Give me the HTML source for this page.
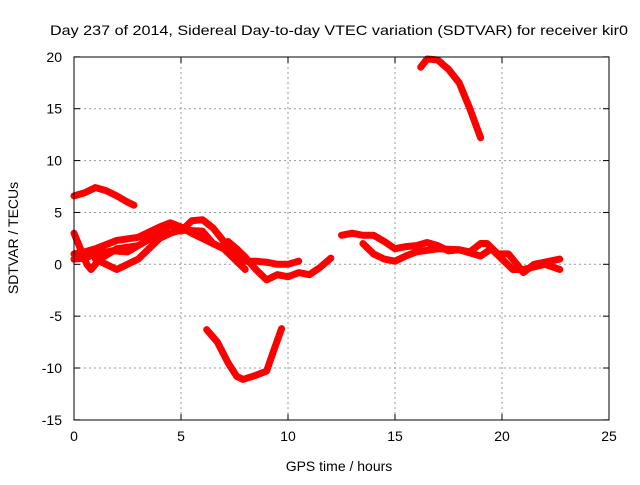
<!DOCTYPE html>
<html><head><meta charset="utf-8"><style>
body{margin:0;background:#fff}
svg text{font-family:"Liberation Sans",sans-serif;font-size:14px;fill:#000}
</style></head><body>
<svg id="chart" width="640" height="480" viewBox="0 0 640 480" xmlns="http://www.w3.org/2000/svg">
<rect width="640" height="480" fill="#fff"/>
<text x="339" y="35" text-anchor="middle" textLength="578" lengthAdjust="spacingAndGlyphs">Day 237 of 2014, Sidereal Day-to-day VTEC variation (SDTVAR) for receiver kir0</text>
<g id="grid"></g>
<g id="series"></g>
<rect x="74" y="57" width="535" height="363" fill="none" stroke="#000" stroke-width="1"/>
<g id="ticks"></g>
<text x="339" y="471" text-anchor="middle">GPS time / hours</text>
<text transform="translate(18,238) rotate(-90)" text-anchor="middle">SDTVAR / TECUs</text>
</svg>
<script>
const xTicks=[0,5,10,15,20,25];
const yTicks=[-15,-10,-5,0,5,10,15,20];
const s1=[[0,6.6],[0.5,6.9],[1,7.4],[1.5,7.1],[2,6.6],[2.5,6.0],[2.8,5.7]];
const s2=[[16.2,19],[16.5,19.8],[17,19.7],[17.5,18.8],[18,17.5],[18.5,15],[19,12.2]];
const s3=[[6.2,-6.3],[6.7,-7.5],[7.2,-9.5],[7.6,-10.8],[7.9,-11.1],[8.5,-10.7],[9,-10.3],[9.3,-8.5],[9.7,-6.2]];
const sA=[[0,3],[0.3,1.5],[0.6,0],[0.8,-0.5],[1.2,0.5],[2,1.5],[3,1.8],[4,3],[4.5,3.8],[5,3.2],[5.5,4.2],[6,4.3],[6.5,3.5],[7,2.2],[7.5,1.2],[8,0.3],[8.5,0.3],[9,0.2],[9.5,0],[10,0],[10.5,0.3]];
const sB=[[0,1],[0.5,1.2],[1,1.5],[2,2.3],[3,2.6],[4,3.6],[4.5,4.0],[5,3.6],[5.5,3.0],[6,2.5],[6.5,2.0],[7,1.5],[7.5,0.5],[8,-0.5]];
const sC=[[1,0.5],[1.5,0],[2,-0.5],[3,0.5],[3.5,1.5],[4,2.5],[4.5,3.0],[5,3.3],[6,3.2],[6.5,2.0],[7,1.5]];
const sD=[[7.2,2.2],[7.6,1.5],[8,0.7],[8.5,-0.5],[9,-1.5],[9.5,-1.0],[10,-1.2],[10.5,-0.8],[11,-1],[11.5,-0.3],[12,0.6]];
const sE=[[0,0.5],[0.5,0.6],[1,1.0],[1.8,1.3],[2.5,1.2],[3,1.8]];
const sR1=[[12.5,2.8],[13,3.0],[13.5,2.8],[14,2.8],[14.5,2.2],[15,1.5],[15.5,1.7],[16,1.8],[16.5,2.1],[17,1.8],[17.5,1.3],[18,1.4],[18.5,1.2],[19,2.0],[19.3,2.0],[19.8,1.0],[20.3,1.0],[20.7,0],[21,-0.8],[21.5,0],[22,0.2],[22.7,0.5]];
const sR2=[[13.5,2.0],[14,1.0],[14.5,0.5],[15,0.3],[15.5,0.8],[16,1.2],[17,1.5],[18,1.4],[19,0.8],[19.5,1.5],[20,0.5],[20.5,-0.5],[21,-0.5],[22,0],[22.7,-0.5]];
const seriesList=[s1,s2,s3,sA,sB,sC,sD,sE,sR1,sR2];
const seriesNames=['series-early-high','series-peak','series-dip','strand-a','strand-b','strand-c','strand-d','strand-e','strand-r1','strand-r2'];
const X=v=>74+v*(535/25);
const Y=v=>264.3-v*(363/35);
const NS='http://www.w3.org/2000/svg';
const grid=document.getElementById('grid'),ticks=document.getElementById('ticks'),ser=document.getElementById('series');
function mk(tag,at,parent){const e=document.createElementNS(NS,tag);for(const k in at)e.setAttribute(k,at[k]);parent.appendChild(e);return e;}
xTicks.forEach(t=>{
  if(t>0&&t<25){const g=mk('line',{x1:X(t),x2:X(t),y1:57,y2:420,stroke:'#999','stroke-dasharray':'2,3'},grid);
  
  }
  const tx=mk('text',{x:X(t),y:441,'text-anchor':'middle'},ticks);tx.textContent=t;
  
  
  mk('line',{x1:X(t),x2:X(t),y1:420,y2:414,stroke:'#000'},ticks);
  mk('line',{x1:X(t),x2:X(t),y1:57,y2:63,stroke:'#000'},ticks);
});
yTicks.forEach(t=>{
  if(t>-15&&t<20){const g=mk('line',{x1:74,x2:609,y1:Y(t),y2:Y(t),stroke:'#999','stroke-dasharray':'2,3'},grid);
  
  }
  const tx=mk('text',{x:62,y:Y(t)+5,'text-anchor':'end'},ticks);tx.textContent=t;
  
  
  mk('line',{x1:74,x2:80,y1:Y(t),y2:Y(t),stroke:'#000'},ticks);
  mk('line',{x1:609,x2:603,y1:Y(t),y2:Y(t),stroke:'#000'},ticks);
});
seriesList.forEach((s,i)=>{
  const p=mk('polyline',{points:s.map(d=>X(d[0])+','+Y(d[1])).join(' '),fill:'none',stroke:'#f00','stroke-width':7,'stroke-linejoin':'round','stroke-linecap':'round'},ser);
  
  
});
</script>
</body></html>
